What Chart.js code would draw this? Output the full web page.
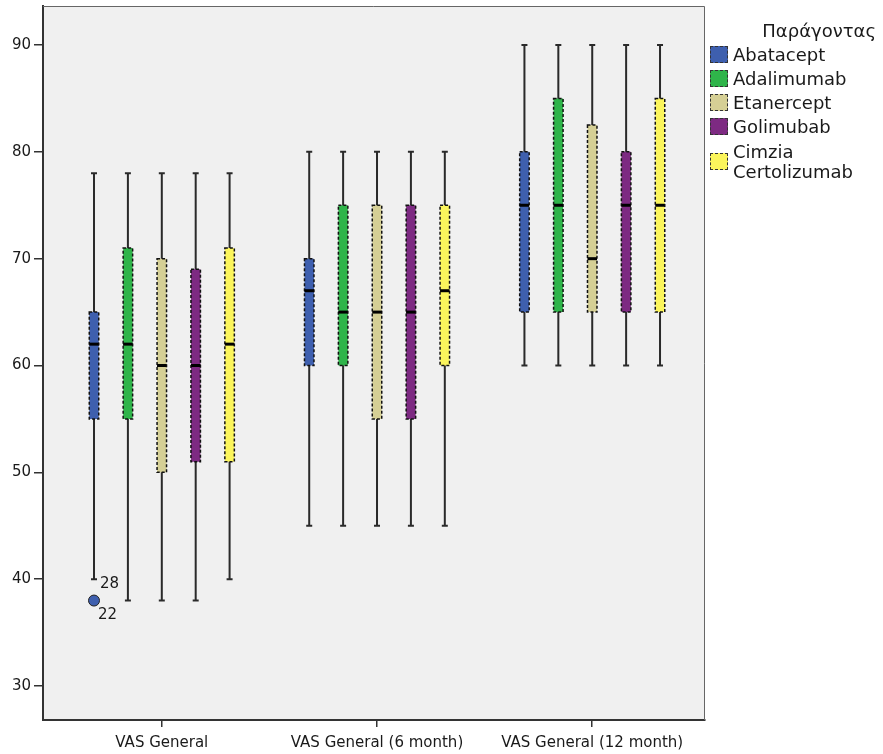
<!DOCTYPE html>
<html>
<head>
<meta charset="utf-8">
<script src="https://cdn.jsdelivr.net/npm/chart.js@4.4.1/dist/chart.umd.min.js"></script>
<style>
  html, body { margin: 0; padding: 0; background: #ffffff; }
  #wrap { position: relative; width: 883px; height: 754px; overflow: hidden; }
  #c { position: absolute; left: 0; top: 0; }
  #legend { position: absolute; left: 0; top: 0; width: 883px; height: 754px; pointer-events: none;
            font-family: "DejaVu Sans", sans-serif; font-size: 18px; color: #1a1a1a; }
  #legend .title { position: absolute; right: 7px; top: 20px; line-height: 22px; white-space: nowrap; }
  #legend .swatch { position: absolute; left: 710px; width: 16px; height: 15px;
                    border: 1.5px dashed #333; }
  #legend .text { position: absolute; left: 733px; line-height: 20px; white-space: nowrap; }
</style>
</head>
<body>
<div id="wrap">
  <canvas id="c" width="883" height="754"></canvas>
  <div id="legend"></div>
</div>
<script>
// Time points on the x axis and the agents that are compared at each one
const timepoints = ['VAS General', 'VAS General (6 month)', 'VAS General (12 month)'];
const agents = ['Abatacept', 'Adalimumab', 'Etanercept', 'Golimubab', 'Cimzia Certolizumab'];
const agentColors = ['#3e5fae', '#2fb44a', '#d5cf95', '#7d2a82', '#fbf55c'];

// Box-plot statistics, one row per agent, one column per time point
const lowWhisker  = [[40, 45, 60], [38, 45, 60], [38, 45, 60], [38, 45, 60], [40, 45, 60]];
const q1          = [[55, 60, 65], [55, 60, 65], [50, 55, 65], [51, 55, 65], [51, 60, 65]];
const medians     = [[62, 67, 75], [62, 65, 75], [60, 65, 70], [60, 65, 75], [62, 67, 75]];
const q3          = [[65, 70, 80], [71, 75, 85], [70, 75, 82.5], [69, 75, 80], [71, 75, 85]];
const highWhisker = [[78, 80, 90], [78, 80, 90], [78, 80, 90], [78, 80, 90], [78, 80, 90]];

// Outlying cases (agent index, time point index, value, case numbers)
const outliers = [{ agent: 0, timepoint: 0, value: 38, cases: ['28', '22'] }];

const yTicks = [30, 40, 50, 60, 70, 80, 90];
const xPositions = timepoints.map((_, i) => i + 1);

const FONT = '"DejaVu Sans", sans-serif';

const datasets = agents.map((name, a) => ({
  label: name,
  data: xPositions.map((x, t) => ({ x: x, y: [q1[a][t], q3[a][t]] })),
  backgroundColor: agentColors[a],
  borderWidth: 0,
  categoryPercentage: 0.7875,
  barPercentage: 0.28
}));

// Plot background and the frame around it
const framePlugin = {
  id: 'frame',
  beforeDraw(chart) {
    const { ctx, chartArea: a } = chart;
    ctx.save();
    ctx.fillStyle = '#f0f0f0';
    ctx.fillRect(a.left, a.top, a.right - a.left, a.bottom - a.top);
    ctx.restore();
  },
  afterDraw(chart) {
    const { ctx, chartArea: a } = chart;
    ctx.save();
    ctx.strokeStyle = '#666';
    ctx.lineWidth = 1;
    ctx.beginPath();
    ctx.moveTo(a.left, a.top + 0.5);
    ctx.lineTo(a.right - 0.5, a.top + 0.5);
    ctx.lineTo(a.right - 0.5, a.bottom);
    ctx.stroke();
    ctx.restore();
  }
};

// Whiskers, dashed box outlines, medians and outliers
const boxPlotPlugin = {
  id: 'boxplot',
  beforeDatasetsDraw(chart) {
    const { ctx } = chart;
    const y = chart.scales.y;
    ctx.save();
    ctx.strokeStyle = '#2a2a2a';
    ctx.lineWidth = 2;
    chart.data.datasets.forEach((ds, a) => {
      chart.getDatasetMeta(a).data.forEach((bar, t) => {
        const x = bar.x;
        const yLo = y.getPixelForValue(lowWhisker[a][t]);
        const yHi = y.getPixelForValue(highWhisker[a][t]);
        ctx.beginPath();
        ctx.moveTo(x, yHi);
        ctx.lineTo(x, yLo);
        ctx.moveTo(x - 3, yHi);
        ctx.lineTo(x + 3, yHi);
        ctx.moveTo(x - 3, yLo);
        ctx.lineTo(x + 3, yLo);
        ctx.stroke();
      });
    });
    ctx.restore();
  },
  afterDatasetsDraw(chart) {
    const { ctx } = chart;
    const y = chart.scales.y;
    ctx.save();
    chart.data.datasets.forEach((ds, a) => {
      chart.getDatasetMeta(a).data.forEach((bar, t) => {
        const p = bar.getProps(['x', 'y', 'base', 'width'], true);
        const l = p.x - p.width / 2, r = p.x + p.width / 2;
        ctx.strokeStyle = '#111';
        ctx.lineWidth = 1.5;
        ctx.setLineDash([3, 2]);
        ctx.strokeRect(l, p.y, r - l, p.base - p.y);
        ctx.setLineDash([]);
        const ym = y.getPixelForValue(medians[a][t]);
        ctx.strokeStyle = '#000';
        ctx.lineWidth = 3;
        ctx.beginPath();
        ctx.moveTo(l, ym);
        ctx.lineTo(r, ym);
        ctx.stroke();
      });
    });
    outliers.forEach(o => {
      const bar = chart.getDatasetMeta(o.agent).data[o.timepoint];
      const cx = bar.x;
      const cy = y.getPixelForValue(o.value);
      ctx.beginPath();
      ctx.arc(cx, cy, 5.5, 0, Math.PI * 2);
      ctx.fillStyle = agentColors[o.agent];
      ctx.fill();
      ctx.strokeStyle = '#222';
      ctx.lineWidth = 1;
      ctx.stroke();
      ctx.fillStyle = '#1a1a1a';
      ctx.font = '15px ' + FONT;
      ctx.textBaseline = 'middle';
      ctx.textAlign = 'left';
      ctx.fillText(o.cases[0], cx + 6, cy - 16);
      ctx.fillText(o.cases[1], cx + 4, cy + 15);
    });
    ctx.restore();
  }
};

new Chart(document.getElementById('c'), {
  type: 'bar',
  data: { datasets: datasets },
  options: {
    responsive: false,
    animation: false,
    devicePixelRatio: 1,
    events: [],
    layout: { padding: { top: 6, right: 178, left: 0, bottom: 0 } },
    plugins: { legend: { display: false }, tooltip: { enabled: false } },
    scales: {
      x: {
        type: 'linear',
        min: 0.448,
        max: 3.524,
        offset: false,
        afterBuildTicks: s => { s.ticks = xPositions.map(v => ({ value: v })); },
        afterFit: s => { s.height = 34; s.paddingLeft = 0; s.paddingRight = 0; },
        ticks: {
          callback: v => timepoints[v - 1],
          autoSkip: false,
          maxRotation: 0,
          padding: 7,
          color: '#1a1a1a',
          font: { family: FONT, size: 15 }
        },
        grid: { offset: false, drawOnChartArea: false, tickLength: 7, color: '#333', lineWidth: 1.5 },
        border: { color: '#333', width: 2 }
      },
      y: {
        min: 26.82,
        max: 93.65,
        afterBuildTicks: s => { s.ticks = yTicks.map(v => ({ value: v })); },
        afterFit: s => { s.width = 43; s.paddingTop = 0; s.paddingBottom = 0; },
        ticks: {
          padding: 3,
          color: '#1a1a1a',
          font: { family: FONT, size: 15 }
        },
        grid: { drawOnChartArea: false, tickLength: 9, color: '#333', lineWidth: 1.5 },
        border: { color: '#333', width: 2 }
      }
    }
  },
  plugins: [framePlugin, boxPlotPlugin]
});

// Legend: title plus one swatch per agent
(function buildLegend() {
  const legend = document.getElementById('legend');
  const title = document.createElement('div');
  title.className = 'title';
  title.textContent = 'Παράγοντας';
  legend.appendChild(title);
  const rowCenters = [55, 79, 103, 127, 162];
  agents.forEach((name, a) => {
    const lines = name === 'Cimzia Certolizumab' ? ['Cimzia', 'Certolizumab'] : [name];
    const cy = rowCenters[a];
    const sw = document.createElement('div');
    sw.className = 'swatch';
    sw.style.top = (cy - 9) + 'px';
    sw.style.background = agentColors[a];
    legend.appendChild(sw);
    const tx = document.createElement('div');
    tx.className = 'text';
    tx.style.top = (cy - lines.length * 10) + 'px';
    tx.innerHTML = lines.join('<br>');
    legend.appendChild(tx);
  });
})();
</script>
</body>
</html>
